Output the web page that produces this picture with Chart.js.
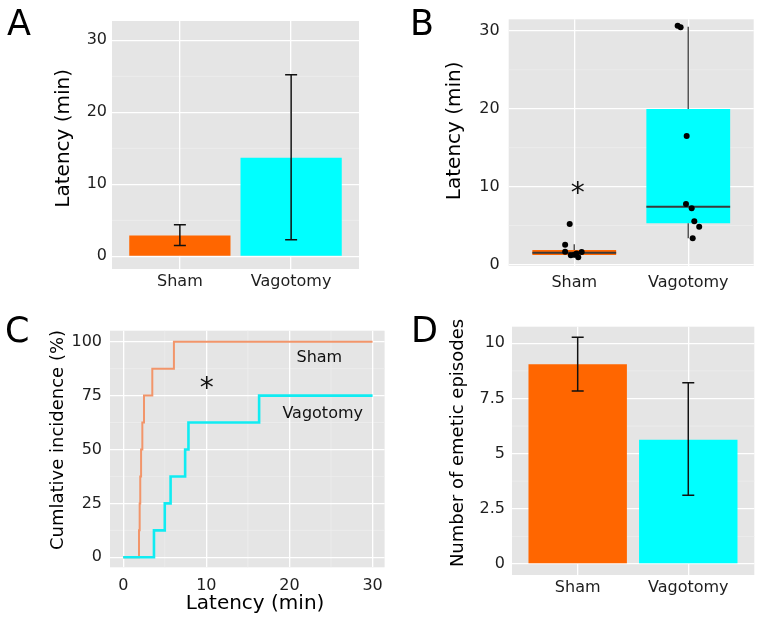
<!DOCTYPE html>
<html>
<head>
<meta charset="utf-8">
<script src="https://cdn.jsdelivr.net/npm/chart.js@4.4.1/dist/chart.umd.min.js"></script>
<style>
body { margin: 0; background: #fff; width: 762px; height: 624px; position: relative; overflow: hidden; }
canvas { position: absolute; }
</style>
</head>
<body>
<canvas id="chartA" width="381" height="310" style="left:0;top:0"></canvas>
<canvas id="chartB" width="381" height="310" style="left:381px;top:0"></canvas>
<canvas id="chartC" width="392" height="314" style="left:0;top:310px"></canvas>
<canvas id="chartD" width="381" height="314" style="left:381px;top:310px"></canvas>
<script>
const groups = ['Sham', 'Vagotomy'];

// A - mean latency with error bars
const latencyMean = [2.9, 13.7];
const latencyLow = [1.5, 2.3];
const latencyHigh = [4.4, 25.2];
const latencyTicks = [0, 10, 20, 30];

// B - box plot + individual animals
const boxLow = [0.9, 3.36];
const boxQ1 = [1.21, 5.28];
const boxMedian = [1.51, 7.42];
const boxQ3 = [1.86, 19.97];
const boxHigh = [2.59, 30.54];
const shamLatency = [5.19, 2.54, 1.64, 1.17, 0.92, 1.6, 1.25, 1.4];
const shamJitter = [-0.04, -0.08, -0.08, -0.03, 0.035, 0.065, 0.0, 0.02];
const vagLatency = [30.67, 30.46, 16.5, 7.76, 7.21, 5.54, 4.85, 3.36];
const vagJitter = [-0.093, -0.067, -0.014, -0.02, 0.03, 0.053, 0.096, 0.039];
const boxTicks = [0, 10, 20, 30];

// C - cumulative incidence
const cumTimeSham = [0, 1.9, 1.98, 2.05, 2.15, 2.3, 2.5, 3.5, 6.1, 30];
const cumPctSham = [0, 12.5, 25, 37.5, 50, 62.5, 75, 87.5, 100, 100];
const cumTimeVag = [0, 3.7, 5.0, 5.7, 7.45, 7.85, 16.35, 30];
const cumPctVag = [0, 12.5, 25, 37.5, 50, 62.5, 75, 75];
const cumXTicks = [0, 10, 20, 30];
const cumYTicks = [0, 25, 50, 75, 100];

// D - emetic episodes
const episodesMean = [9.05, 5.63];
const episodesLow = [7.84, 3.11];
const episodesHigh = [10.27, 8.21];
const episodeTicks = [0, 2.5, 5, 7.5, 10];

const barColors = ['#ff6600', '#00ffff'];
const FONT = "'DejaVu Sans', sans-serif";
Chart.defaults.font.family = FONT;

function midpoints(t) {
  return t.slice(1).map((v, i) => (v + t[i]) / 2);
}

function axes(p) {
  return {
    x: {
      type: 'linear', min: p.xMin, max: p.xMax, offset: false,
      afterBuildTicks: s => { s.ticks = p.xTicks.map(v => ({value: v})); },
      afterFit: s => { s.height = p.xHeight; },
      grid: {color: '#ffffff', lineWidth: 1.3, drawTicks: false, offset: false},
      border: {display: false},
      ticks: {
        padding: p.xPad, autoSkip: false, maxRotation: 0, color: '#1e1e1e', font: {size: 16},
        callback: p.xLabels ? v => p.xLabels[v] : v => String(v)
      }
    },
    y: {
      type: 'linear', min: p.yMin, max: p.yMax,
      afterBuildTicks: s => { s.ticks = p.yTicks.map(v => ({value: v})); },
      afterFit: s => { s.width = p.yWidth; },
      grid: {color: '#ffffff', lineWidth: 1.3, drawTicks: false},
      border: {display: false},
      ticks: {padding: p.yPad, color: '#1e1e1e', font: {size: 16}, callback: v => String(v)}
    }
  };
}

function baseOptions(p) {
  return {
    responsive: false,
    animation: false,
    layout: {padding: {left: 0, top: p.top, right: p.right, bottom: 0}},
    plugins: {legend: {display: false}, tooltip: {enabled: false}},
    scales: axes(p)
  };
}

// grey panel, faint minor grid, panel letter and axis titles
function panelDecor(yMinor, xMinor, texts) {
  return {
    id: 'panelDecor',
    beforeDraw(chart) {
      const {ctx, chartArea: a, scales} = chart;
      ctx.save();
      ctx.fillStyle = '#e5e5e5';
      ctx.fillRect(a.left, a.top, a.right - a.left, a.bottom - a.top);
      ctx.strokeStyle = '#eeeeee';
      ctx.lineWidth = 0.8;
      yMinor.forEach(v => {
        const y = scales.y.getPixelForValue(v);
        ctx.beginPath(); ctx.moveTo(a.left, y); ctx.lineTo(a.right, y); ctx.stroke();
      });
      xMinor.forEach(v => {
        const x = scales.x.getPixelForValue(v);
        ctx.beginPath(); ctx.moveTo(x, a.top); ctx.lineTo(x, a.bottom); ctx.stroke();
      });
      ctx.restore();
    },
    afterDraw(chart) {
      const ctx = chart.ctx;
      texts.forEach(t => {
        ctx.save();
        ctx.font = t.size + 'px ' + FONT;
        ctx.fillStyle = '#000';
        ctx.textAlign = t.align || 'center';
        ctx.textBaseline = t.baseline || 'middle';
        ctx.translate(t.x, t.y);
        if (t.rotate) ctx.rotate(-Math.PI / 2);
        ctx.fillText(t.text, 0, 0);
        ctx.restore();
      });
    }
  };
}

function errorBars(low, high, cap) {
  return {
    id: 'errorBars',
    afterDatasetsDraw(chart) {
      const {ctx, scales: {x, y}} = chart;
      ctx.save();
      ctx.strokeStyle = '#111';
      ctx.lineWidth = 1.5;
      low.forEach((lo, i) => {
        const cx = x.getPixelForValue(i);
        const y0 = y.getPixelForValue(lo);
        const y1 = y.getPixelForValue(high[i]);
        ctx.beginPath();
        ctx.moveTo(cx, y0); ctx.lineTo(cx, y1);
        ctx.moveTo(cx - cap, y0); ctx.lineTo(cx + cap, y0);
        ctx.moveTo(cx - cap, y1); ctx.lineTo(cx + cap, y1);
        ctx.stroke();
      });
      ctx.restore();
    }
  };
}

// text placed in data coordinates
function dataText(items) {
  return {
    id: 'dataText',
    afterDatasetsDraw(chart) {
      const {ctx, scales: {x, y}} = chart;
      items.forEach(t => {
        ctx.save();
        ctx.font = t.size + 'px ' + FONT;
        ctx.fillStyle = '#111';
        ctx.textAlign = 'center';
        ctx.textBaseline = 'middle';
        ctx.fillText(t.text, x.getPixelForValue(t.x), y.getPixelForValue(t.y) + (t.dy || 0));
        ctx.restore();
      });
    }
  };
}

// ---------- A ----------
new Chart(document.getElementById('chartA'), {
  type: 'bar',
  data: {
    datasets: [{
      data: groups.map((g, i) => ({x: i, y: latencyMean[i]})),
      backgroundColor: barColors,
      barPercentage: 0.91,
      categoryPercentage: 1
    }]
  },
  options: baseOptions({
    top: 21, right: 22, xHeight: 41, yWidth: 112, xPad: 3, yPad: 5,
    xMin: -0.61, xMax: 1.61, xTicks: [0, 1], xLabels: groups,
    yMin: -1.76, yMax: 32.68, yTicks: latencyTicks
  }),
  plugins: [
    panelDecor(midpoints(latencyTicks), [], [
      {text: 'A', x: 7, y: 35, size: 35, align: 'left', baseline: 'alphabetic'},
      {text: 'Latency (min)', x: 63.5, y: 138.3, size: 20, rotate: true}
    ]),
    errorBars(latencyLow, latencyHigh, 6)
  ]
});

// ---------- B ----------
const boxLayer = {
  id: 'boxLayer',
  afterDatasetDraw(chart, args) {
    if (args.index !== 1) return;
    const {ctx, scales: {x, y}} = chart;
    const bars = chart.getDatasetMeta(1).data;
    ctx.save();
    ctx.strokeStyle = '#555';
    ctx.lineWidth = 1.5;
    groups.forEach((g, i) => {
      const cx = x.getPixelForValue(i);
      ctx.beginPath();
      ctx.moveTo(cx, y.getPixelForValue(boxQ3[i])); ctx.lineTo(cx, y.getPixelForValue(boxHigh[i]));
      ctx.moveTo(cx, y.getPixelForValue(boxQ1[i])); ctx.lineTo(cx, y.getPixelForValue(boxLow[i]));
      ctx.stroke();
    });
    ctx.strokeStyle = '#3a3a3a';
    ctx.lineWidth = 2;
    groups.forEach((g, i) => {
      const cx = x.getPixelForValue(i);
      const hw = bars[i].width / 2;
      const my = y.getPixelForValue(boxMedian[i]);
      ctx.beginPath(); ctx.moveTo(cx - hw, my); ctx.lineTo(cx + hw, my); ctx.stroke();
    });
    ctx.restore();
  }
};

new Chart(document.getElementById('chartB'), {
  type: 'bar',
  data: {
    datasets: [
      {
        type: 'scatter',
        data: shamLatency.map((v, i) => ({x: shamJitter[i], y: v}))
          .concat(vagLatency.map((v, i) => ({x: 1 + vagJitter[i], y: v}))),
        pointRadius: 3,
        pointBackgroundColor: '#000',
        pointBorderWidth: 0
      },
      {
        data: groups.map((g, i) => ({x: i, y: [boxQ1[i], boxQ3[i]]})),
        backgroundColor: barColors,
        barPercentage: 0.735,
        categoryPercentage: 1
      }
    ]
  },
  options: baseOptions({
    top: 19.3, right: 8.3, xHeight: 44, yWidth: 127.7, xPad: 7, yPad: 9,
    xMin: -0.575, xMax: 1.574, xTicks: [0, 1], xLabels: groups,
    yMin: -0.2, yMax: 31.49, yTicks: boxTicks
  }),
  plugins: [
    panelDecor(midpoints(boxTicks), [], [
      {text: 'B', x: 29, y: 35, size: 35, align: 'left', baseline: 'alphabetic'},
      {text: 'Latency (min)', x: 74.2, y: 130.8, size: 20, rotate: true}
    ]),
    boxLayer,
    dataText([{text: '*', x: 0.03, y: 9.78, size: 28, dy: 6}])
  ]
});

// ---------- C ----------
new Chart(document.getElementById('chartC'), {
  type: 'line',
  data: {
    datasets: [
      {
        data: cumTimeVag.map((t, i) => ({x: t, y: cumPctVag[i]})),
        borderColor: '#10ecf2',
        borderWidth: 2.6,
        stepped: 'before',
        pointRadius: 0,
        fill: false
      },
      {
        data: cumTimeSham.map((t, i) => ({x: t, y: cumPctSham[i]})),
        borderColor: '#f2956a',
        borderWidth: 2,
        stepped: 'before',
        pointRadius: 0,
        fill: false
      }
    ]
  },
  options: baseOptions({
    top: 20.7, right: 6, xHeight: 56.7, yWidth: 110, xPad: 9, yPad: 8,
    xMin: -1.59, xMax: 31.45, xTicks: cumXTicks,
    yMin: -4.64, yMax: 105.1, yTicks: cumYTicks
  }),
  plugins: [
    panelDecor(midpoints(cumYTicks), midpoints(cumXTicks), [
      {text: 'C', x: 5, y: 31.7, size: 35, align: 'left', baseline: 'alphabetic'},
      {text: 'Cumlative incidence (%)', x: 58.3, y: 130, size: 18, rotate: true},
      {text: 'Latency (min)', x: 255, y: 293.3, size: 20}
    ]),
    dataText([
      {text: 'Sham', x: 23.6, y: 92.3, size: 16},
      {text: 'Vagotomy', x: 24.0, y: 66.5, size: 16},
      {text: '*', x: 10.05, y: 80.7, size: 28, dy: 6}
    ])
  ]
});

// ---------- D ----------
new Chart(document.getElementById('chartD'), {
  type: 'bar',
  data: {
    datasets: [{
      data: groups.map((g, i) => ({x: i, y: episodesMean[i]})),
      backgroundColor: barColors,
      barPercentage: 0.89,
      categoryPercentage: 1
    }]
  },
  options: baseOptions({
    top: 16.7, right: 7.7, xHeight: 49, yWidth: 131, xPad: 3, yPad: 7,
    xMin: -0.594, xMax: 1.597, xTicks: [0, 1], xLabels: groups,
    yMin: -0.5, yMax: 10.75, yTicks: episodeTicks
  }),
  plugins: [
    panelDecor(midpoints(episodeTicks), [], [
      {text: 'D', x: 30, y: 31.7, size: 35, align: 'left', baseline: 'alphabetic'},
      {text: 'Number of emetic episodes', x: 77, y: 133, size: 18, rotate: true}
    ]),
    errorBars(episodesLow, episodesHigh, 6)
  ]
});
</script>
</body>
</html>
